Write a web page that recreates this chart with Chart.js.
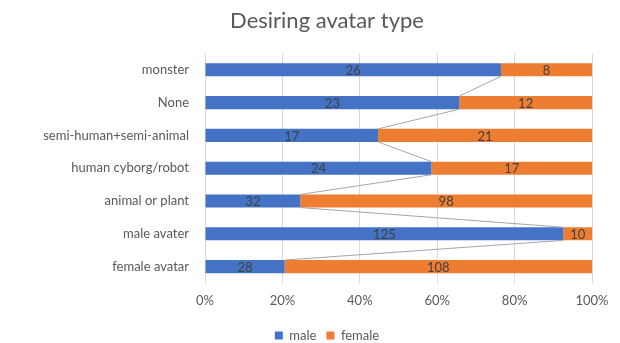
<!DOCTYPE html>
<html>
<head>
<meta charset="utf-8">
<script src="https://cdn.jsdelivr.net/npm/chart.js@4/dist/chart.umd.min.js"></script>
<style>
  html, body { margin: 0; padding: 0; background: #fff; }
  #wrap { width: 620px; height: 343px; }
</style>
</head>
<body>
<div id="wrap"><canvas id="c"></canvas></div>
<script>
// Answers per avatar type, split by respondent gender
const categories = ['monster', 'None', 'semi-human+semi-animal', 'human cyborg/robot', 'animal or plant', 'male avater', 'female avatar'];
const maleCounts = [26, 23, 17, 24, 32, 125, 28];
const femaleCounts = [8, 12, 21, 17, 98, 10, 108];
const tickLabels = ['0%', '20%', '40%', '60%', '80%', '100%'];

const totals = maleCounts.map((m, i) => m + femaleCounts[i]);
const malePct = maleCounts.map((m, i) => m / totals[i] * 100);
const femalePct = femaleCounts.map((f, i) => f / totals[i] * 100);

const FONT = 'Lato, "Open Sans", sans-serif';

// Grey connector lines between the end of the first segment of adjacent bars
const seriesLines = {
  id: 'seriesLines',
  afterDatasetsDraw(chart) {
    const meta = chart.getDatasetMeta(0);
    const ctx = chart.ctx;
    ctx.save();
    ctx.strokeStyle = '#a6a6a6';
    ctx.lineWidth = 1;
    for (let i = 0; i < meta.data.length - 1; i++) {
      const a = meta.data[i], b = meta.data[i + 1];
      ctx.beginPath();
      ctx.moveTo(a.x, a.y + a.height / 2);
      ctx.lineTo(b.x, b.y - b.height / 2);
      ctx.stroke();
    }
    ctx.restore();
  }
};

// Raw counts printed in the middle of each segment
const segmentLabels = {
  id: 'segmentLabels',
  afterDatasetsDraw(chart) {
    const ctx = chart.ctx;
    ctx.save();
    ctx.font = '13px ' + FONT;
    ctx.fillStyle = '#404040';
    ctx.textAlign = 'center';
    ctx.textBaseline = 'middle';
    chart.data.datasets.forEach((ds, di) => {
      const meta = chart.getDatasetMeta(di);
      meta.data.forEach((el, i) => {
        ctx.fillText(String(ds.counts[i]), (el.x + el.base) / 2, el.y + 1);
      });
    });
    ctx.restore();
  }
};

new Chart(document.getElementById('c'), {
  type: 'bar',
  data: {
    labels: categories,
    datasets: [
      { label: 'male', data: malePct, counts: maleCounts, backgroundColor: '#4472C4' },
      { label: 'female', data: femalePct, counts: femaleCounts, backgroundColor: '#ED7D31' }
    ]
  },
  options: {
    indexAxis: 'y',
    responsive: true,
    maintainAspectRatio: false,
    animation: false,
    layout: { padding: { left: 62, right: 28, top: 4, bottom: -9 } },
    datasets: { bar: { barPercentage: 0.4, categoryPercentage: 1.0, borderWidth: 0 } },
    scales: {
      x: {
        stacked: true,
        min: 0, max: 100,
        ticks: {
          stepSize: 20,
          color: '#595959',
          font: { family: FONT, size: 13 },
          padding: 10,
          callback: (v, i) => tickLabels[i]
        },
        grid: { color: '#d9d9d9', drawTicks: false },
        border: { display: false },
        afterFit(scale) { scale.height = 36; }
      },
      y: {
        stacked: true,
        ticks: { color: '#595959', font: { family: FONT, size: 13 }, padding: 8 },
        grid: { display: false },
        border: { display: false },
        afterFit(scale) {
          scale.width = 143;
          // long category names may extend left of the axis box
          scale._computeLabelArea = () => undefined;
        }
      }
    },
    plugins: {
      title: {
        display: true,
        text: 'Desiring avatar type',
        color: '#595959',
        font: { family: FONT, size: 22, weight: 'normal' },
        padding: { top: 4, bottom: 19 }
      },
      legend: {
        position: 'bottom',
        labels: {
          color: '#595959',
          font: { family: FONT, size: 13 },
          boxWidth: 8, boxHeight: 8,
          padding: 10
        }
      },
      tooltip: { enabled: false }
    }
  },
  plugins: [seriesLines, segmentLabels]
});
</script>
</body>
</html>
